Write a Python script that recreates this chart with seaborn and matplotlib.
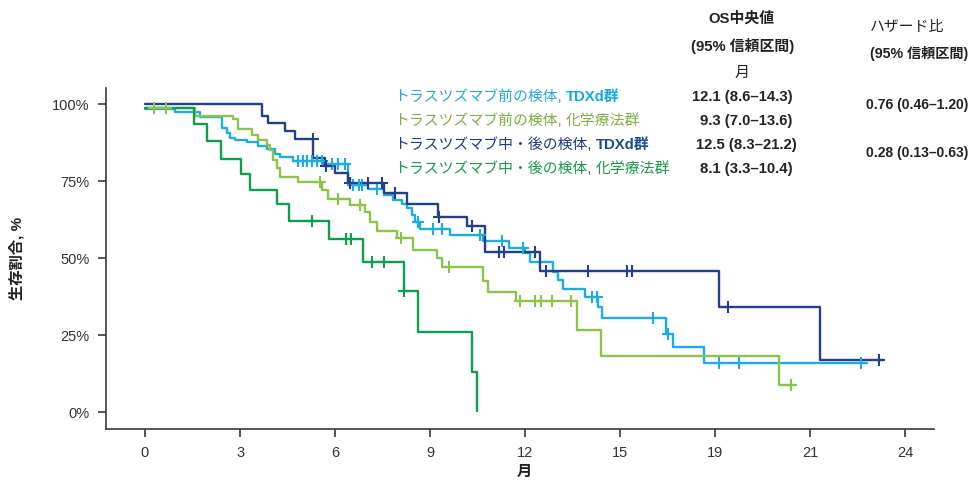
import numpy as np
import pandas as pd
import matplotlib
matplotlib.use("Agg")
import matplotlib.pyplot as plt
import seaborn as sns

# ---------------- data ----------------
groups = ["pre_tdxd", "pre_chemo", "post_tdxd", "post_chemo"]
legend_main = ["トラスツズマブ前の検体,", "トラスツズマブ前の検体,",
               "トラスツズマブ中・後の検体,", "トラスツズマブ中・後の検体,"]
legend_tail = ["TDXd群", "化学療法群", "TDXd群", "化学療法群"]
median_labels = ["12.1 (8.6–14.3)", "9.3 (7.0–13.6)", "12.5 (8.3–21.2)", "8.1 (3.3–10.4)"]
hr_labels = ["0.76 (0.46–1.20)", "0.28 (0.13–0.63)"]

# light blue: TDXd, pre-trastuzumab samples
t_pre_tdxd = [0, 0.95, 1.74, 2.42, 2.58, 2.68, 2.84, 3.21, 3.58, 3.84, 4.10, 4.26, 4.68,
              5.65, 6.42, 7.05, 7.53, 7.84, 8.10, 8.26, 8.42, 8.53, 8.68, 9.63, 10.68,
              11.50, 12.00, 12.16, 12.87, 13.02, 13.19, 13.89, 14.31, 14.42, 16.45,
              16.66, 17.65, 22.79]
s_pre_tdxd = [98.4, 97.3, 95.7, 92.1, 90.5, 89.1, 88.3, 87.6, 86.5, 85.4, 83.7, 82.7, 81.6,
              80.6, 73.7, 72.3, 70.5, 68.8, 67.7, 66.1, 64.0, 61.8, 59.3, 57.5, 55.6,
              53.1, 51.7, 48.8, 45.6, 42.9, 40.1, 37.4, 34.0, 30.4, 25.3,
              21.2, 15.8, 15.8]
c_pre_tdxd = [4.84, 5.0, 5.1, 5.26, 5.42, 5.58, 5.9, 6.1, 6.32, 6.58, 6.74, 6.84, 7.32,
              8.63, 9.1, 9.37, 10.58, 11.26, 11.93, 14.1, 14.26, 16.02, 16.5, 18.13,
              18.76, 22.6]

# light green: chemo, pre-trastuzumab samples
t_pre_chemo = [0, 1.58, 2.79, 2.95, 3.37, 3.58, 3.84, 3.93, 4.05, 4.16, 4.26, 4.84, 5.58,
               5.79, 6.47, 6.95, 7.10, 7.32, 7.95, 8.45, 9.22, 9.38, 10.68, 10.82, 11.72,
               13.63, 14.39, 20.02, 20.52]
s_pre_chemo = [98.6, 96.1, 95.0, 91.8, 89.9, 88.3, 86.7, 85.1, 81.8, 79.1, 76.4, 74.6, 72.1,
               69.2, 67.2, 65.0, 61.8, 58.9, 56.4, 52.5, 49.9, 47.2, 42.7, 38.9, 36.0,
               26.6, 18.2, 8.8, 8.8]
c_pre_chemo = [0.28, 0.65, 5.53, 6.1, 6.79, 8.08, 9.58, 11.84, 12.31, 12.49, 12.84,
               13.44, 20.39]

# dark blue: TDXd, during/after trastuzumab samples
t_post_tdxd = [0, 3.68, 3.89, 4.42, 4.74, 5.31, 5.68, 6.0, 6.42, 7.53, 8.26, 9.26, 10.15,
               10.74, 12.47, 18.1, 21.29, 23.29]
s_post_tdxd = [100, 96.2, 93.7, 91.2, 88.6, 82.6, 79.9, 77.5, 74.5, 71.0, 67.7, 63.2, 60.4,
               52.0, 45.9, 34.2, 16.9, 16.9]
c_post_tdxd = [5.29, 5.7, 6.47, 7.05, 7.47, 7.9, 9.27, 10.32, 11.16, 11.32, 12.31, 12.66,
               13.97, 15.21, 15.37, 18.4, 23.15]

# dark green: chemo, during/after trastuzumab samples
t_post_chemo = [0, 1.56, 1.95, 2.39, 3.02, 3.32, 4.16, 4.56, 5.82, 6.87, 8.16, 8.63,
                10.33, 10.49]
s_post_chemo = [98.6, 93.5, 88.0, 82.3, 77.3, 72.0, 67.7, 62.1, 56.1, 48.8, 39.3, 26.1,
                13.1, 0.4]
c_post_chemo = [5.26, 6.33, 6.50, 7.18, 7.53, 8.18]

x_ticks = [0, 3, 6, 9, 12, 15, 18, 21, 24]
x_tick_labels = ["0", "3", "6", "9", "12", "15", "19", "21", "24"]
y_ticks = [0, 25, 50, 75, 100]
y_tick_labels = ["0%", "25%", "50%", "75%", "100%"]

colors = {"pre_tdxd": "#1EADE3", "pre_chemo": "#8CC44A",
          "post_tdxd": "#243F8C", "post_chemo": "#0F9E4E"}
text_colors = {"pre_tdxd": ("#2AA6DC", "#10A9E3"), "pre_chemo": ("#7DB043", "#7DB043"),
               "post_tdxd": ("#1F3C80", "#1B4C96"), "post_chemo": ("#1C9A4C", "#1C9A4C")}

times = dict(zip(groups, [t_pre_tdxd, t_pre_chemo, t_post_tdxd, t_post_chemo]))
survs = dict(zip(groups, [s_pre_tdxd, s_pre_chemo, s_post_tdxd, s_post_chemo]))
cens = dict(zip(groups, [c_pre_tdxd, c_pre_chemo, c_post_tdxd, c_post_chemo]))

curve_rows = []
cens_rows = []
for g in groups:
    t = np.array(times[g]); s = np.array(survs[g])
    for ti, si in zip(t, s):
        curve_rows.append((g, ti, si))
    for c in cens[g]:
        idx = np.searchsorted(t, c, side="right") - 1
        cens_rows.append((g, c, s[idx]))
curves = pd.DataFrame(curve_rows, columns=["group", "month", "surv"])
censors = pd.DataFrame(cens_rows, columns=["group", "month", "surv"])

# ---------------- style ----------------
sns.set_style("ticks")
plt.rcParams["font.family"] = ["Liberation Sans", "Noto Sans CJK JP", "DejaVu Sans"]

W, H = 973, 484
fig = plt.figure(figsize=(W / 100, H / 100), dpi=100)
ax = fig.add_axes([106 / W, 1 - 429 / H, (934 - 106) / W, (429 - 88) / H])

for g in groups:
    sub = curves[curves.group == g]
    sns.lineplot(data=sub, x="month", y="surv", color=colors[g], drawstyle="steps-post",
                 estimator=None, sort=False, linewidth=1.7, ax=ax, legend=False)
    csub = censors[censors.group == g]
    sns.scatterplot(data=csub, x="month", y="surv", color=colors[g], marker="+",
                    s=70, linewidth=1.5, ax=ax, legend=False, zorder=3)

ax.set_xlim(-1.23, 24.9)
ax.set_ylim(-5.5, 105.2)
ax.set_xticks(x_ticks)
ax.set_xticklabels(x_tick_labels)
ax.set_yticks(y_ticks)
ax.set_yticklabels(y_tick_labels)
spine_c = "#3A3A3A"
for side in ["top", "right"]:
    ax.spines[side].set_visible(False)
for side in ["left", "bottom"]:
    ax.spines[side].set_color(spine_c)
    ax.spines[side].set_linewidth(1.2)
ax.tick_params(axis="both", length=6, width=1.2, color=spine_c, labelsize=10.5,
               labelcolor="#333333")
ax.tick_params(axis="x", pad=6)
ax.tick_params(axis="y", pad=6)

ax.set_xlabel("月", fontsize=11, fontweight="bold", color="#222222")
ax.xaxis.set_label_coords((524 - 106) / 828, -0.105)
ax.set_ylabel("生存割合, %", fontsize=11, fontweight="bold", color="#222222")
ax.yaxis.set_label_coords(-0.098, 0.5)

# ---------------- annotation text ----------------
fs = 10.7
def fy(py):
    return 1 - py / H

row_y = [95, 119.5, 143, 167]
fig.canvas.draw()
renderer = fig.canvas.get_renderer()
for i, g in enumerate(groups):
    c1, c2 = text_colors[g]
    t1 = fig.text(394 / W, fy(row_y[i]), legend_main[i], fontsize=fs, color=c1,
                  ha="left", va="center_baseline")
    bb = t1.get_window_extent(renderer)
    bold = "bold" if "TDXd" in legend_tail[i] else "normal"
    fig.text((bb.x1 + 4) / W, fy(row_y[i]), legend_tail[i], fontsize=fs, color=c2,
             ha="left", va="center_baseline", fontweight=bold)

median_x = [742, 746.5, 746, 746]
for i, lab in enumerate(median_labels):
    fig.text(median_x[i] / W, fy(row_y[i]), lab, fontsize=fs, fontweight="bold",
             color="#222222", ha="center", va="center_baseline")

fig.text(741 / W, fy(17), "OS中央値", fontsize=fs, fontweight="bold", color="#222222",
         ha="center", va="center_baseline")
fig.text(743 / W, fy(44), "(95% 信頼区間)", fontsize=fs, fontweight="bold", color="#222222",
         ha="center", va="center_baseline")
fig.text(742 / W, fy(71), "月", fontsize=fs, color="#222222",
         ha="center", va="center_baseline")
fig.text(870 / W, fy(25), "ハザード比", fontsize=fs, color="#222222",
         ha="left", va="center_baseline")
fig.text(968 / W, fy(52), "(95% 信頼区間)", fontsize=10.2, fontweight="bold", color="#222222",
         ha="right", va="center_baseline")
hr_y = [104, 151]
for i, lab in enumerate(hr_labels):
    fig.text(968 / W, fy(hr_y[i]), lab, fontsize=10.0, fontweight="bold", color="#222222",
             ha="right", va="center_baseline")

fig.savefig("out.png", dpi=100)
